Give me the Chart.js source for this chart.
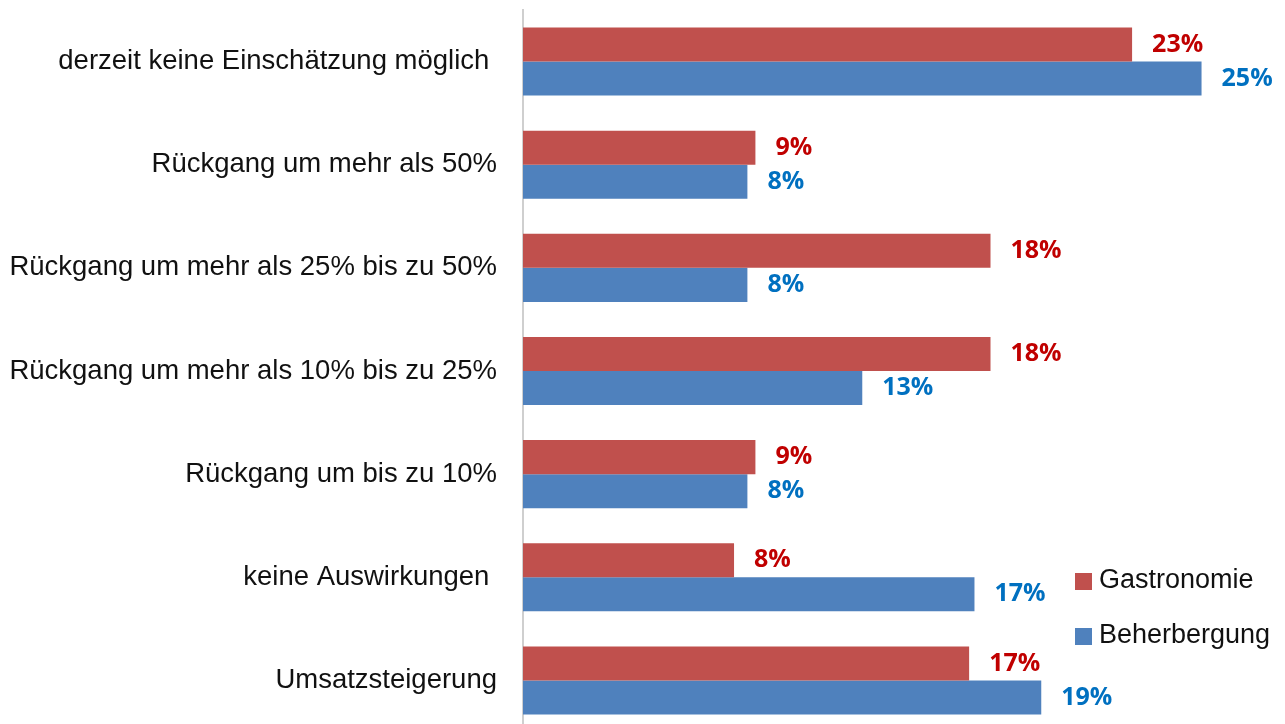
<!DOCTYPE html>
<html>
<head>
<meta charset="utf-8">
<script src="https://cdn.jsdelivr.net/npm/chart.js@4.4.1/dist/chart.umd.min.js"></script>
<style>
  html, body { margin: 0; padding: 0; background: #fff; overflow: hidden; }
  #wrap { position: relative; width: 1285px; height: 732px; }
</style>
</head>
<body>
<div id="wrap"><canvas id="c"></canvas></div>
<script>
const categories = [
  "derzeit keine Einschätzung möglich ",
  "Rückgang um mehr als 50%",
  "Rückgang um mehr als 25% bis zu 50%",
  "Rückgang um mehr als 10% bis zu 25%",
  "Rückgang um bis zu 10%",
  "keine Auswirkungen ",
  "Umsatzsteigerung"
];
const seriesNames = ["Gastronomie", "Beherbergung"];
const gastronomie = [22.8, 8.7, 17.5, 17.5, 8.7, 7.9, 16.7];
const beherbergung = [25.4, 8.4, 8.4, 12.7, 8.4, 16.9, 19.4];
const barColors = ["#C0504D", "#4F81BD"];
const labelColors = ["#C00000", "#0070C0"];

const valueLabels = {
  id: "valueLabels",
  afterDatasetsDraw(chart) {
    const ctx = chart.ctx;
    ctx.save();
    ctx.font = "bold 25px 'Open Sans'";
    ctx.textAlign = "left";
    ctx.textBaseline = "middle";
    chart.data.datasets.forEach((ds, di) => {
      const meta = chart.getDatasetMeta(di);
      ctx.fillStyle = labelColors[di];
      meta.data.forEach((el, i) => {
        ctx.fillText(Math.round(ds.data[i]) + "%", el.x + 20, el.y);
      });
    });
    ctx.restore();
  }
};

const customLegend = {
  id: "customLegend",
  afterDraw(chart) {
    const ctx = chart.ctx;
    const a = chart.chartArea;
    const x = a.right - 196;
    const ys = [a.bottom - 151, a.bottom - 96];
    ctx.save();
    ctx.font = "27px 'Liberation Sans'";
    ctx.textAlign = "left";
    ctx.textBaseline = "middle";
    chart.data.datasets.forEach((ds, di) => {
      ctx.fillStyle = ds.backgroundColor;
      ctx.fillRect(x, ys[di] - 8, 17, 17);
      ctx.fillStyle = "#111";
      ctx.fillText(ds.label, x + 24, ys[di]);
    });
    ctx.restore();
  }
};

new Chart(document.getElementById("c"), {
  type: "bar",
  data: {
    labels: categories,
    datasets: [
      { label: seriesNames[0], data: gastronomie, backgroundColor: barColors[0], borderWidth: 0 },
      { label: seriesNames[1], data: beherbergung, backgroundColor: barColors[1], borderWidth: 0 }
    ]
  },
  options: {
    indexAxis: "y",
    responsive: true,
    maintainAspectRatio: false,
    animation: false,
    layout: { padding: { top: 10, bottom: 0, left: 0, right: 14 } },
    datasets: { bar: { barPercentage: 1.0, categoryPercentage: 0.66 } },
    plugins: { legend: { display: false }, tooltip: { enabled: false } },
    scales: {
      x: { display: false, min: 0, max: 28 },
      y: {
        grid: { display: true, color: "transparent", drawTicks: false },
        border: { display: true, color: "#CFCFCF", width: 2, dash: [3, 1] },
        ticks: { padding: 26, color: "#111", font: { family: "'Liberation Sans'", size: 27.5 } },
        afterFit(scale) {
          scale.width = 523;
          scale.paddingTop = 0;
          scale.paddingBottom = 0;
        }
      }
    }
  },
  plugins: [valueLabels, customLegend]
});
</script>
</body>
</html>
